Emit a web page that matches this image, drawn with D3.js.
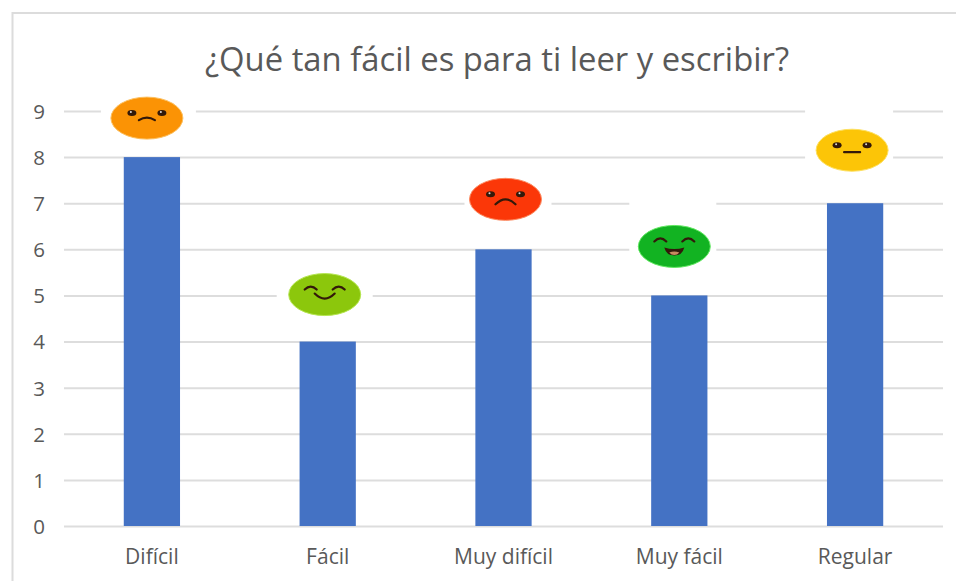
<!DOCTYPE html>
<html><head><meta charset="utf-8">
<script src="https://cdn.jsdelivr.net/npm/d3@7"></script>
<style>html,body{margin:0;padding:0;background:#fff}svg{display:block}text{font-family:"Open Sans","Noto Sans",sans-serif}</style>
</head><body><svg id="c" width="956" height="581"></svg>
<script>
const categories=["Difícil","Fácil","Muy difícil","Muy fácil","Regular"];
const values=[8,4,6,5,7];
const yTicks=[0,1,2,3,4,5,6,7,8,9];
const title="¿Qué tan fácil es para ti leer y escribir?";
const faceColors=["#fb9305","#8cc70c","#fb3708","#12b322","#fcc507"];
const faceEdges=["#fcc060","#b5e650","#fc8a60","#60e860","#fde060"];
const faceMoods=["worried","smile","sad","laugh","neutral"];
const faceDx=[-5,-3,2,-5,-3];
const faceDy=[-39,-47,-50,-49,-53];
const patchLeft=[-46,-48,-41,-45,-47];
const patchRight=[49,48,46,42,41];
const patchTop=[-46,-38,-38,-52,-52];

const svg=d3.select("#c");
const x=d3.scaleBand().domain(categories).range([64,943]).paddingInner(0.68).paddingOuter(0.34);
const y=d3.scaleLinear().domain([0,9]).range([526,111]);

svg.append("rect").attr("x",12.5).attr("y",13).attr("width",1000).attr("height",700)
  .attr("fill","#fff").attr("stroke","#dcdcdc").attr("stroke-width",2);

svg.append("text").attr("x",497).attr("y",71).attr("text-anchor","middle")
  .attr("font-size",32.8).attr("fill","#595959").text(title);

const yAxis=d3.axisLeft(y).tickValues(yTicks).tickSize(-879).tickPadding(19);
const gy=svg.append("g").attr("transform","translate(64,0)").call(yAxis);
gy.select(".domain").remove();
gy.selectAll("line").attr("stroke","#dddddd").attr("stroke-width",2);
gy.selectAll("text").attr("font-size",20.5).attr("fill","#595959").attr("dy","0.36em");

const xAxis=d3.axisBottom(x).tickSize(0).tickPadding(23);
const gx=svg.append("g").attr("transform","translate(0,526)").call(xAxis);
gx.select(".domain").remove();
gx.selectAll("text").attr("font-size",21).attr("fill","#595959").attr("dy","0.72em");

svg.selectAll("rect.bar").data(values).join("rect").attr("class","bar")
  .attr("x",(d,i)=>x(categories[i])).attr("width",x.bandwidth())
  .attr("y",d=>y(d)).attr("height",d=>y(0)-y(d)).attr("fill","#4472c4");

const faces=svg.selectAll("g.face").data(values).join("g").attr("class","face")
  .attr("transform",(d,i)=>`translate(${x(categories[i])+x.bandwidth()/2+faceDx[i]},${y(d)+faceDy[i]})`);
faces.append("rect").attr("x",(d,i)=>patchLeft[i]).attr("y",(d,i)=>patchTop[i])
  .attr("width",(d,i)=>patchRight[i]-patchLeft[i]).attr("height",(d,i)=>36-patchTop[i]).attr("fill","#fff");
faces.append("ellipse").attr("rx",36).attr("ry",21)
  .attr("fill",(d,i)=>faceColors[i]).attr("stroke",(d,i)=>faceEdges[i]).attr("stroke-width",1);

const ink="#33190a";
faces.each(function(d,i){
  const g=d3.select(this),m=faceMoods[i];
  const line=p=>g.append("path").attr("d",p).attr("fill","none").attr("stroke",ink).attr("stroke-width",2.2).attr("stroke-linecap","round");
  if(m==="smile"||m==="laugh"){
    line("M-20,-5 Q-14,-11 -8,-5"); line("M8,-5 Q14,-11 20,-5");
  } else {
    [-15,15].forEach(ex=>{
      g.append("ellipse").attr("cx",ex).attr("cy",-5).attr("rx",4.5).attr("ry",3).attr("fill",ink);
      g.append("circle").attr("cx",ex-1).attr("cy",-6).attr("r",1).attr("fill","#ddd");
    });
  }
  if(m==="worried") line("M-8,2 Q0,-3 8,2");
  if(m==="smile") line("M-10,-1 Q0,9 10,-1");
  if(m==="sad") line("M-10,5 Q0,-5 10,5");
  if(m==="neutral") line("M-8,2 L8,2");
  if(m==="laugh"){
    g.append("path").attr("d","M-10,1 Q0,4 10,1 Q8,9 0,9 Q-8,9 -10,1Z").attr("fill",ink);
    g.append("path").attr("d","M-5,6 Q0,4 5,6 Q3,8.5 0,8.5 Q-3,8.5 -5,6Z").attr("fill","#c98a60");
  }
});
</script></body></html>
